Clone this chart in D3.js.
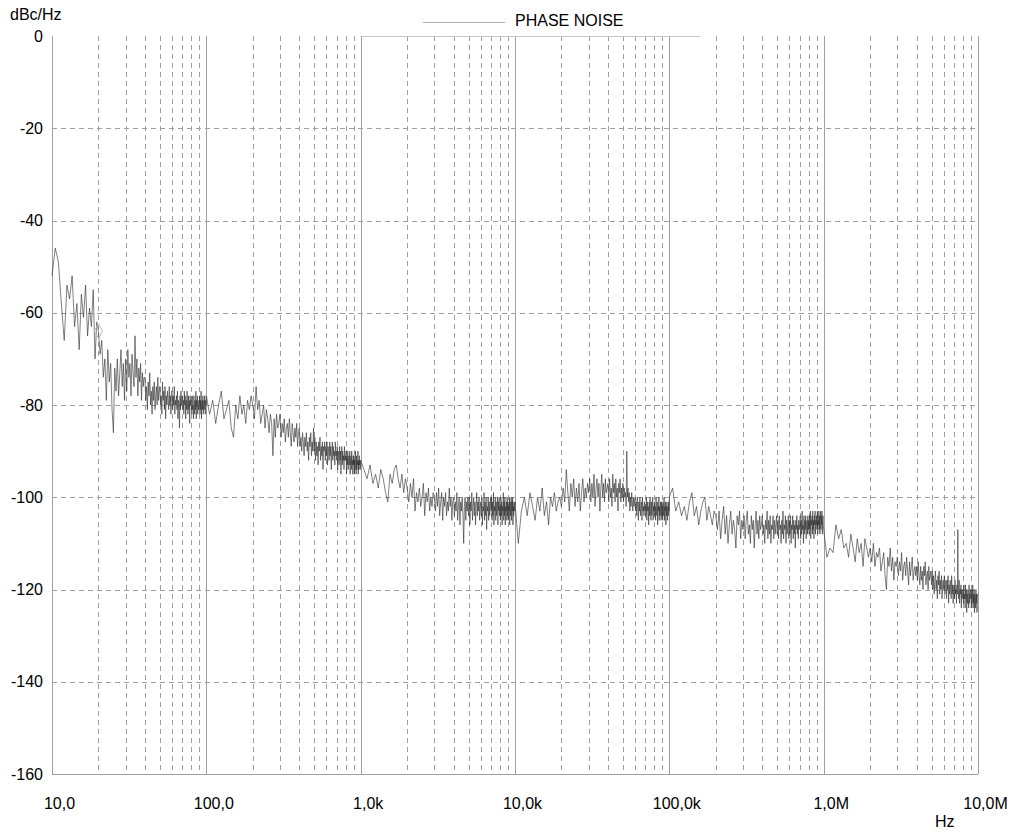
<!DOCTYPE html>
<html>
<head>
<meta charset="utf-8">
<script src="https://cdn.jsdelivr.net/npm/d3@7"></script>
<style>
  body { margin: 0; background: #fff; }
  text { font-family: "Liberation Sans", Arial, sans-serif; }
</style>
</head>
<body>
<script>
// sweep: each decade is swept in linear steps of 0.05 x decade start
var decadeStarts = [10, 100, 1e3, 1e4, 1e5, 1e6];
var steps = [1.00,1.05,1.10,1.15,1.20,1.25,1.30,1.35,1.40,1.45,1.50,1.55,1.60,1.65,1.70,1.75,1.80,1.85,1.90,1.95,
             2.00,2.05,2.10,2.15,2.20,2.25,2.30,2.35,2.40,2.45,2.50,2.55,2.60,2.65,2.70,2.75,2.80,2.85,2.90,2.95,
             3.00,3.05,3.10,3.15,3.20,3.25,3.30,3.35,3.40,3.45,3.50,3.55,3.60,3.65,3.70,3.75,3.80,3.85,3.90,3.95,
             4.00,4.05,4.10,4.15,4.20,4.25,4.30,4.35,4.40,4.45,4.50,4.55,4.60,4.65,4.70,4.75,4.80,4.85,4.90,4.95,
             5.00,5.05,5.10,5.15,5.20,5.25,5.30,5.35,5.40,5.45,5.50,5.55,5.60,5.65,5.70,5.75,5.80,5.85,5.90,5.95,
             6.00,6.05,6.10,6.15,6.20,6.25,6.30,6.35,6.40,6.45,6.50,6.55,6.60,6.65,6.70,6.75,6.80,6.85,6.90,6.95,
             7.00,7.05,7.10,7.15,7.20,7.25,7.30,7.35,7.40,7.45,7.50,7.55,7.60,7.65,7.70,7.75,7.80,7.85,7.90,7.95,
             8.00,8.05,8.10,8.15,8.20,8.25,8.30,8.35,8.40,8.45,8.50,8.55,8.60,8.65,8.70,8.75,8.80,8.85,8.90,8.95,
             9.00,9.05,9.10,9.15,9.20,9.25,9.30,9.35,9.40,9.45,9.50,9.55,9.60,9.65,9.70,9.75,9.80,9.85,9.90,9.95];

// phase noise, dBc/Hz, one list per decade (one row per 1.xx, 2.xx, ...)
var dec10 = [-52,-46,-49,-58,-66,-54,-57,-52,-63,-58,-68,-56,-61,-54,-65,-59,-63,-55,-70,-62,
             -64,-69,-66,-74,-70,-79,-68,-75,-71,-81,-86,-72,-77,-70,-78,-73,-68,-76,-71,-79,
             -70,-77,-68,-74,-71,-78,-69,-73,-76,-65,-74,-70,-78,-72,-75,-71,-79,-73,-76,-74,
             -74,-79,-76,-81,-75,-78,-73,-80,-77,-82,-76,-79,-75,-81,-78,-76,-80,-74,-79,-77,
             -76,-80,-78,-82,-75,-79,-77,-81,-76,-83,-78,-80,-77,-79,-81,-76,-80,-78,-82,-77,
             -77,-81,-78,-80,-76,-82,-79,-80,-78,-81,-77,-83,-79,-80,-85,-78,-81,-77,-80,-79,
             -78,-81,-79,-82,-77,-80,-78,-83,-79,-81,-77,-80,-82,-78,-81,-79,-84,-78,-80,-79,
             -79,-82,-78,-81,-80,-83,-78,-80,-82,-79,-81,-77,-83,-79,-80,-78,-82,-80,-81,-79,
             -80,-78,-82,-79,-81,-77,-83,-80,-79,-81,-78,-82,-80,-79,-81,-78,-80,-82,-79,-80];
var dec100 = [-78,-82,-79,-84,-80,-77,-83,-81,-79,-85,-87,-80,-83,-78,-82,-80,-84,-79,-81,-78,
              -80,-83,-76,-81,-79,-84,-82,-80,-85,-81,-83,-86,-82,-84,-91,-83,-87,-82,-85,-84,
              -82,-87,-84,-86,-83,-88,-85,-84,-87,-83,-86,-89,-84,-86,-88,-85,-87,-84,-89,-86,
              -85,-89,-87,-90,-86,-88,-91,-87,-89,-86,-90,-88,-92,-87,-89,-86,-91,-88,-90,-85,
              -90,-87,-92,-88,-91,-89,-93,-88,-90,-87,-92,-89,-91,-88,-94,-89,-90,-88,-92,-89,
              -91,-88,-93,-89,-90,-92,-88,-91,-89,-94,-90,-88,-92,-89,-91,-90,-93,-88,-91,-90,
              -92,-89,-94,-90,-91,-93,-89,-92,-90,-95,-91,-89,-93,-90,-92,-91,-94,-89,-92,-91,
              -92,-90,-95,-91,-93,-90,-94,-92,-91,-93,-90,-95,-92,-91,-94,-90,-93,-92,-95,-91,
              -93,-91,-95,-92,-94,-90,-93,-95,-91,-94,-92,-93,-90,-95,-92,-94,-91,-93,-92,-94];
var dec1k = [-92,-94,-96,-93,-97,-95,-98,-94,-96,-99,-101,-95,-97,-94,-93,-96,-98,-95,-99,-96,
             -98,-101,-97,-100,-96,-103,-99,-101,-98,-102,-100,-97,-104,-99,-101,-98,-103,-100,-102,-99,
             -100,-103,-99,-102,-98,-104,-101,-99,-105,-100,-102,-99,-104,-101,-103,-98,-102,-100,-105,-101,
             -100,-104,-101,-103,-99,-105,-102,-100,-106,-101,-103,-100,-104,-110,-102,-100,-105,-101,-103,-100,
             -104,-100,-106,-101,-103,-99,-105,-102,-100,-104,-101,-106,-102,-99,-104,-101,-103,-100,-105,-102,
             -101,-104,-100,-106,-102,-103,-99,-105,-101,-104,-100,-107,-102,-103,-100,-105,-101,-104,-102,-100,
             -103,-100,-105,-101,-104,-99,-106,-102,-103,-100,-105,-101,-104,-102,-100,-106,-101,-103,-100,-104,
             -102,-105,-100,-104,-101,-106,-102,-103,-99,-105,-101,-104,-100,-106,-102,-103,-101,-105,-100,-104,
             -101,-105,-102,-103,-100,-106,-101,-104,-102,-100,-105,-101,-103,-100,-106,-102,-104,-101,-103,-102];
var dec10k = [-101,-110,-103,-100,-104,-99,-102,-105,-100,-103,-98,-104,-101,-106,-100,-102,-99,-103,-101,-100,
              -102,-98,-101,-94,-99,-103,-97,-100,-96,-102,-98,-101,-97,-103,-99,-96,-101,-98,-100,-97,
              -99,-96,-101,-97,-100,-95,-102,-98,-96,-100,-97,-103,-98,-95,-100,-97,-101,-96,-99,-98,
              -97,-101,-96,-100,-98,-102,-95,-99,-97,-101,-96,-100,-98,-103,-97,-99,-96,-101,-98,-100,
              -97,-101,-98,-100,-99,-102,-90,-100,-98,-101,-99,-103,-100,-102,-99,-101,-103,-100,-102,-101,
              -100,-103,-101,-104,-100,-102,-105,-101,-103,-100,-104,-102,-101,-105,-100,-103,-102,-104,-101,-103,
              -102,-104,-100,-105,-101,-103,-102,-106,-101,-104,-100,-103,-105,-101,-104,-102,-100,-105,-102,-103,
              -101,-104,-102,-105,-100,-103,-104,-101,-106,-102,-103,-100,-105,-102,-104,-101,-103,-105,-101,-104,
              -102,-105,-101,-103,-104,-100,-105,-102,-103,-101,-106,-102,-104,-101,-103,-105,-102,-104,-101,-103];
var dec100k = [-100,-98,-103,-101,-104,-102,-105,-101,-99,-104,-102,-106,-103,-101,-100,-105,-102,-104,-106,-103,
               -104,-107,-103,-109,-105,-102,-108,-104,-110,-106,-103,-108,-105,-107,-111,-104,-106,-103,-109,-105,
               -107,-104,-109,-105,-103,-108,-106,-110,-104,-107,-105,-111,-106,-103,-108,-105,-109,-104,-107,-106,
               -104,-108,-106,-110,-105,-107,-103,-109,-105,-108,-104,-110,-106,-107,-104,-109,-105,-108,-106,-104,
               -108,-105,-109,-104,-107,-106,-110,-105,-108,-103,-109,-106,-107,-104,-110,-105,-108,-106,-104,-109,
               -105,-108,-104,-110,-106,-107,-104,-109,-105,-108,-106,-111,-105,-107,-104,-108,-106,-109,-105,-107,
               -106,-104,-109,-105,-108,-103,-107,-106,-110,-104,-108,-105,-107,-104,-109,-106,-105,-108,-104,-107,
               -105,-108,-104,-107,-103,-109,-105,-106,-104,-108,-103,-107,-105,-109,-104,-106,-103,-108,-105,-106,
               -104,-107,-103,-108,-105,-106,-103,-107,-104,-108,-105,-103,-107,-104,-106,-103,-108,-105,-104,-106];
var dec1M = [-107,-113,-111,-112,-106,-109,-107,-111,-110,-113,-108,-111,-114,-109,-112,-110,-115,-109,-111,-113,
             -111,-114,-110,-115,-112,-113,-111,-116,-114,-112,-117,-120,-113,-115,-111,-116,-113,-118,-114,-115,
             -113,-117,-114,-116,-112,-118,-115,-114,-117,-113,-116,-119,-114,-117,-115,-113,-118,-116,-115,-117,
             -115,-118,-114,-117,-119,-115,-118,-116,-120,-115,-117,-114,-119,-117,-116,-120,-115,-118,-117,-116,
             -119,-116,-120,-117,-121,-118,-116,-120,-118,-122,-117,-119,-116,-121,-118,-120,-117,-122,-119,-118,
             -120,-117,-121,-119,-118,-122,-118,-120,-117,-123,-119,-121,-118,-120,-122,-117,-121,-119,-123,-120,
             -119,-122,-118,-121,-120,-123,-119,-121,-107,-120,-122,-118,-123,-120,-121,-119,-124,-120,-122,-121,
             -120,-123,-119,-122,-121,-124,-119,-122,-120,-125,-121,-123,-120,-122,-124,-119,-123,-121,-122,-120,
             -121,-124,-120,-123,-122,-119,-124,-121,-123,-120,-125,-121,-122,-124,-120,-123,-121,-125,-122,-121];
var endFreq = 1e7, endDb = -121;

var markerFreq = [20], markerDb = [-64];

var xTickValues = [10, 100, 1e3, 1e4, 1e5, 1e6, 1e7];
var xTickLabels = ["10,0", "100,0", "1,0k", "10,0k", "100,0k", "1,0M", "10,0M"];
var yTickValues = [0, -20, -40, -60, -80, -100, -120, -140, -160];

// build the trace table
var decadeValues = [dec10, dec100, dec1k, dec10k, dec100k, dec1M];
var data = [];
decadeStarts.forEach(function(d0, i) {
  steps.forEach(function(m, k) {
    data.push({ f: d0 * m, v: decadeValues[i][k] });
  });
});
data.push({ f: endFreq, v: endDb });

var w = 1027, h = 833;
var svg = d3.select("body").append("svg")
    .attr("width", w)
    .attr("height", h);

var x = d3.scaleLog().domain([10, 1e7]).range([52, 978]);
var y = d3.scaleLinear().domain([-160, 0]).range([774, 36]);

var gridColor = "#a0a0a0";
var fontSize = 16;

// minor vertical grid (dashed)
var minor = x.ticks().filter(function(t) {
  return Math.abs(Math.log10(t) - Math.round(Math.log10(t))) > 1e-6;
});
svg.append("g").selectAll("line")
  .data(minor)
  .enter().append("line")
    .attr("x1", function(d) { return Math.round(x(d)) + 0.5; })
    .attr("x2", function(d) { return Math.round(x(d)) + 0.5; })
    .attr("y1", y(0))
    .attr("y2", y(-160))
    .attr("stroke", gridColor)
    .attr("stroke-dasharray", "5,4");

// horizontal grid (dashed)
svg.append("g").selectAll("line")
  .data(yTickValues.filter(function(d) { return d !== 0 && d !== -160; }))
  .enter().append("line")
    .attr("x1", x(10))
    .attr("x2", x(1e7))
    .attr("y1", function(d) { return Math.round(y(d)) + 0.5; })
    .attr("y2", function(d) { return Math.round(y(d)) + 0.5; })
    .attr("stroke", gridColor)
    .attr("stroke-dasharray", "5,4");

// decade lines (solid)
svg.append("g").selectAll("line")
  .data(xTickValues)
  .enter().append("line")
    .attr("x1", function(d) { return Math.round(x(d)) + 0.5; })
    .attr("x2", function(d) { return Math.round(x(d)) + 0.5; })
    .attr("y1", y(0))
    .attr("y2", y(-160))
    .attr("stroke", gridColor);

// bottom axis line
svg.append("line")
    .attr("x1", x(10)).attr("x2", x(1e7))
    .attr("y1", Math.round(y(-160)) + 0.5).attr("y2", Math.round(y(-160)) + 0.5)
    .attr("stroke", gridColor);

// short top rule under the legend
svg.append("line")
    .attr("x1", 360).attr("x2", 700)
    .attr("y1", Math.round(y(0)) + 0.5).attr("y2", Math.round(y(0)) + 0.5)
    .attr("stroke", "#c8c8c8");

// axis labels
var yAxis = d3.axisLeft(y)
    .tickValues(yTickValues)
    .tickSize(0)
    .tickPadding(9)
    .tickFormat(function(d) { return d; });
svg.append("g")
    .attr("transform", "translate(" + x(10) + ",0)")
    .call(yAxis)
    .call(function(g) { g.select(".domain").remove(); })
    .selectAll("text")
      .attr("font-family", "Liberation Sans, Arial, sans-serif")
      .attr("font-size", fontSize)
      .attr("fill", "#000");

var xAxis = d3.axisBottom(x)
    .tickValues(xTickValues)
    .tickSize(0)
    .tickPadding(24)
    .tickFormat(function(d, i) { return xTickLabels[i]; });
svg.append("g")
    .attr("transform", "translate(0," + y(-160) + ")")
    .call(xAxis)
    .call(function(g) { g.select(".domain").remove(); })
    .selectAll("text")
      .attr("dx", 7)
      .attr("font-family", "Liberation Sans, Arial, sans-serif")
      .attr("font-size", fontSize)
      .attr("fill", "#000");

svg.append("text")
    .attr("x", 10)
    .attr("y", 20)
    .attr("font-size", fontSize)
    .text("dBc/Hz");

svg.append("text")
    .attr("x", 935)
    .attr("y", 827)
    .attr("font-size", fontSize)
    .text("Hz");

// legend
svg.append("line")
    .attr("x1", 423).attr("x2", 505)
    .attr("y1", 22.5).attr("y2", 22.5)
    .attr("stroke", "#b0b0b0");
svg.append("text")
    .attr("x", 515)
    .attr("y", 26)
    .attr("font-size", fontSize)
    .text("PHASE NOISE");

// trace
var line = d3.line()
    .x(function(d) { return x(d.f); })
    .y(function(d) { return y(d.v); });

svg.append("path")
    .datum(data)
    .attr("d", line)
    .attr("fill", "none")
    .attr("stroke", "#2a2a2a")
    .attr("stroke-width", 0.6);

// marker
svg.append("g").selectAll("path")
  .data(markerFreq)
  .enter().append("path")
    .attr("d", d3.symbol().type(d3.symbolDiamond).size(60))
    .attr("transform", function(d, i) { return "translate(" + x(d) + "," + y(markerDb[i]) + ")"; })
    .attr("fill", "none")
    .attr("stroke", "#bbb");
</script>
</body>
</html>
